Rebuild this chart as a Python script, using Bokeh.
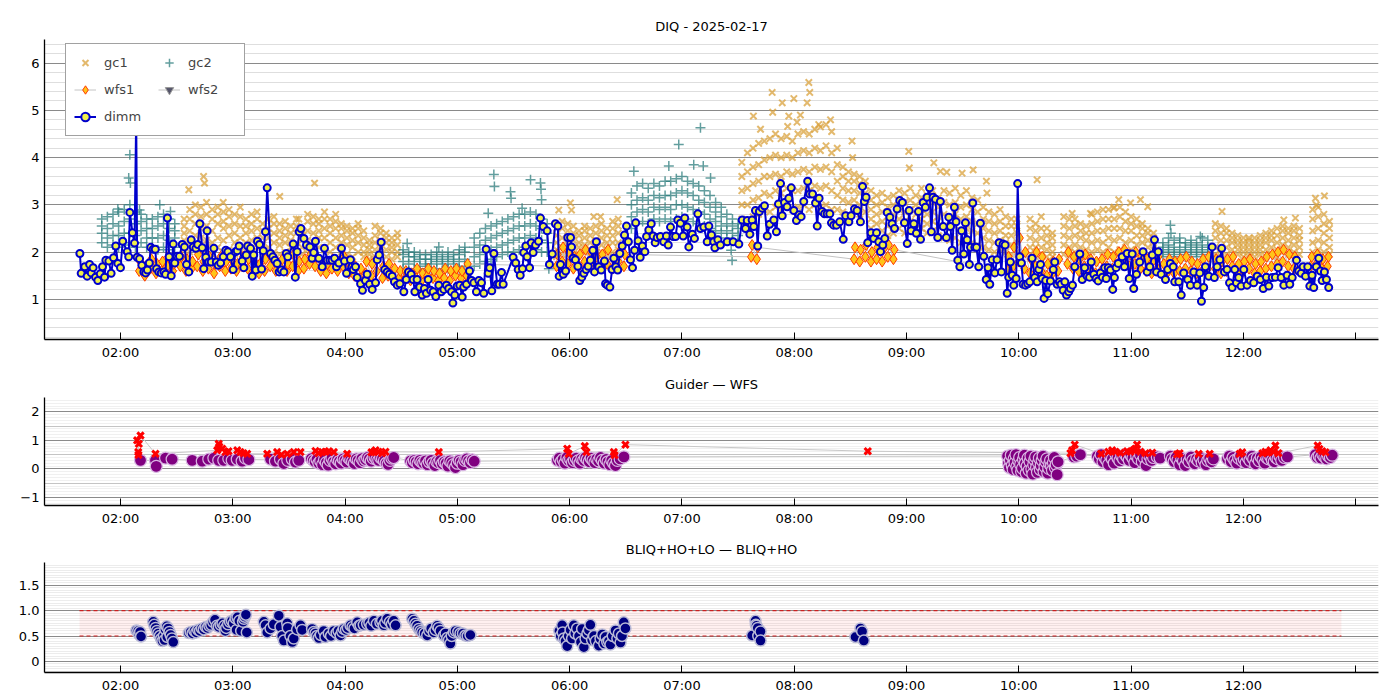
import numpy as np
import pandas as pd
from bokeh.plotting import figure
from bokeh.models import (ColumnDataSource, Legend, LegendItem, FixedTicker,
                          SingleIntervalTicker, Grid, Range1d, DatetimeTickFormatter)
from bokeh.layouts import column
from bokeh.embed import file_html
from bokeh.resources import INLINE

# ---------------------------------------------------------------- data
DATE = "2025-02-17"
TITLES = ["DIQ - 2025-02-17", "Guider \u2014 WFS", "BLIQ+HO+LO \u2014 BLIQ+HO"]
TICK_HOURS = [2, 3, 4, 5, 6, 7, 8, 9, 10, 11, 12, 13]
TICK_LABELS = ["02:00", "03:00", "04:00", "05:00", "06:00", "07:00", "08:00",
               "09:00", "10:00", "11:00", "12:00", ""]
X_START_MIN, X_END_MIN = 79.4, 792.2          # minutes after midnight

# DIMM seeing (minutes after midnight, arcsec)
dimm_t = [
98.3,99.0,100.9,102.2,103.5,104.4,105.4,106.7,107.9,109.2,110.4,111.5,112.2,113.8,115.0,116.3,117.5,118.6,120.0,121.2,
123.6,124.4,125.0,126.4,127.5,128.4,128.9,130.2,131.4,132.5,133.5,134.4,135.4,136.2,137.5,138.6,139.3,140.5,141.8,143.2,
144.1,145.1,146.0,147.1,148.2,149.0,150.3,151.5,153.0,154.2,155.3,156.5,157.8,158.9,160.3,161.3,162.4,163.7,164.5,165.6,
166.3,167.2,168.5,169.9,171.2,172.2,173.5,174.9,176.3,177.4,178.8,180.2,181.5,182.4,183.4,185.0,185.9,187.2,188.0,189.5,
190.4,191.2,192.3,193.2,194.3,195.4,196.3,197.5,198.4,200.2,201.4,202.5,203.7,204.8,205.9,207.3,208.6,209.4,212.3,213.4,
214.4,215.5,216.4,218.0,219.4,221.2,222.4,223.3,224.2,226.0,227.8,229.0,230.5,231.9,233.1,234.4,235.4,236.7,238.1,239.7,
240.8,242.9,244.4,245.6,246.5,248.3,249.3,250.9,251.8,253.1,254.5,256.3,257.2,258.2,259.3,261.2,262.5,263.7,265.2,266.4,
267.9,269.3,271.4,272.7,273.9,275.3,276.4,277.3,278.5,279.9,281.2,282.4,283.5,284.4,285.7,287.1,288.5,290.1,291.4,292.8,
294.2,295.4,296.9,297.6,298.6,299.9,301.3,302.6,303.4,304.9,306.5,307.6,308.8,310.2,311.5,312.9,314.1,315.4,316.5,317.3,
318.4,319.5,321.3,322.4,323.6,324.5,329.8,331.2,332.5,333.6,334.8,335.5,336.6,337.3,338.6,339.5,340.5,341.8,343.4,344.4,
345.9,348.0,349.2,350.7,352.4,353.7,354.4,355.1,356.6,357.9,359.0,360.5,361.0,361.9,363.1,364.4,365.4,366.5,367.6,368.8,
369.9,371.1,372.4,373.3,374.3,375.6,376.9,378.6,379.2,380.1,381.5,382.7,383.6,384.7,385.7,386.8,388.1,389.3,390.4,391.4,
392.5,393.6,394.7,395.3,396.6,397.7,398.9,400.2,401.1,402.3,403.6,404.6,405.7,406.8,408.5,410.3,411.7,412.7,413.9,415.3,
416.6,417.8,419.2,420.7,421.5,422.8,423.7,425.5,426.7,428.5,429.9,431.7,433.5,434.4,435.8,437.0,437.6,439.2,440.6,444.2,
447.4,450.4,452.2,454.0,454.9,456.3,457.5,458.4,459.3,460.5,461.4,462.9,464.1,465.6,466.9,469.1,470.5,471.6,472.7,473.6,
474.8,476.2,477.1,478.4,479.8,481.2,482.6,483.7,485.1,487.2,488.3,489.8,491.4,492.3,493.3,494.9,496.2,497.6,499.0,499.9,
501.1,502.6,504.3,506.2,507.5,509.2,510.4,512.2,513.6,515.4,516.5,517.5,518.4,519.3,521.1,522.5,524.0,525.2,526.1,527.3,
528.4,529.7,531.1,532.3,533.6,535.0,536.4,537.8,538.9,540.4,541.4,542.5,543.9,545.3,546.4,547.5,548.9,550.1,551.0,552.3,
553.3,554.2,555.5,556.7,558.1,559.6,561.3,562.6,563.5,564.4,565.6,566.5,567.4,568.5,569.4,570.6,571.5,572.4,573.6,574.2,
575.4,576.5,577.4,578.6,579.5,581.3,582.6,583.6,584.5,585.8,587.2,588.4,589.5,590.7,591.6,592.7,593.8,594.6,595.5,596.5,
597.3,598.6,599.4,600.5,601.4,602.3,603.6,604.8,605.9,607.1,608.5,609.8,610.7,611.6,612.5,613.5,614.4,615.5,616.9,618.4,
619.2,620.5,621.7,622.6,623.7,624.6,625.5,626.7,627.6,628.7,629.9,632.6,633.9,635.2,636.5,637.8,638.7,640.1,641.3,642.4,
643.6,644.7,645.9,646.7,647.8,649.0,650.2,651.1,652.0,653.1,655.2,656.5,657.9,659.0,660.6,661.4,662.9,664.6,666.4,668.6,
670.0,671.3,672.5,673.6,674.5,676.1,678.4,679.6,681.0,682.5,683.3,685.5,686.8,688.1,690.3,691.7,693.5,695.3,696.7,697.6,
698.8,699.7,701.5,703.3,704.5,706.0,707.4,708.4,709.9,711.3,712.6,714.0,715.4,716.3,717.5,718.8,720.2,722.0,723.8,725.5,
727.4,729.1,730.6,732.3,733.6,735.4,737.1,738.6,740.2,741.6,743.4,744.8,746.1,748.4,749.6,750.9,751.9,753.2,754.4,755.5,
756.7,757.6,759.0,760.3,761.2,762.1,763.3,764.4,765.6]
dimm_v = [
1.97,1.55,1.69,1.49,1.74,1.56,1.67,1.47,1.40,1.54,1.69,1.47,1.83,1.81,1.55,1.88,2.13,1.76,1.67,2.23,
2.01,1.90,2.84,2.41,2.19,4.90,1.89,1.86,1.72,1.58,1.56,1.62,1.77,2.10,2.06,2.06,1.65,1.58,1.56,1.58,
1.53,2.72,1.90,1.50,2.17,1.77,1.91,1.91,2.16,2.11,1.74,1.58,2.26,2.11,2.08,2.16,2.60,2.09,1.65,1.89,
2.45,1.79,1.79,2.08,1.79,1.72,1.77,1.90,2.04,2.01,1.90,1.63,2.01,2.03,2.13,1.81,1.67,1.94,2.13,2.08,
1.49,1.94,1.62,2.23,2.16,1.64,2.03,2.43,3.36,1.97,1.90,1.83,1.76,1.58,1.62,1.58,1.97,1.90,2.17,1.47,
2.01,2.43,2.50,2.29,2.15,2.11,1.87,1.99,2.23,1.87,1.69,2.08,1.83,1.83,1.83,1.87,1.69,1.77,2.08,1.81,
1.55,1.84,1.63,1.69,1.46,1.33,1.19,1.40,1.53,1.32,1.21,1.35,1.84,1.94,2.21,1.63,1.58,1.53,1.49,1.37,
1.30,1.33,1.16,1.42,1.58,1.53,1.42,1.16,1.42,1.26,1.09,1.23,1.13,1.42,1.19,1.16,1.06,1.30,1.16,1.21,
1.30,1.23,1.16,0.92,1.09,1.28,1.30,1.05,1.26,1.32,1.60,1.40,1.35,1.16,1.40,1.35,1.13,2.06,1.55,1.67,
1.18,1.97,1.32,1.32,1.57,1.32,1.89,1.77,1.63,1.51,1.65,1.99,2.13,1.90,1.67,2.20,1.99,2.15,2.23,2.72,
2.54,2.45,1.74,1.96,2.60,2.55,1.49,1.74,1.53,1.60,2.31,2.31,2.11,1.87,1.84,1.70,1.40,1.47,1.55,1.63,
1.70,1.83,2.04,1.58,2.22,1.69,1.62,1.81,1.33,1.30,1.26,1.63,1.87,1.69,1.62,1.97,2.13,2.36,2.55,2.22,
1.84,1.67,2.04,2.62,2.24,1.89,2.13,2.01,2.33,2.47,2.60,2.34,2.20,2.31,2.33,2.22,2.34,2.15,2.53,2.33,
2.33,2.68,2.61,2.34,2.72,2.53,2.11,2.38,2.29,2.81,2.50,2.53,2.22,2.55,2.36,2.22,2.09,2.26,2.15,2.22,
2.22,2.17,2.68,2.50,2.67,2.38,2.68,2.54,2.88,2.13,2.86,2.93,2.98,2.34,2.59,2.68,2.43,3.02,3.45,2.77,
3.05,2.96,3.14,3.36,2.88,2.67,2.79,2.75,3.07,3.50,3.23,3.23,3.04,2.55,3.14,2.86,2.81,2.81,2.81,2.62,
2.57,2.57,2.64,2.27,2.77,2.64,2.77,2.91,2.88,2.64,3.39,3.07,3.16,2.20,2.41,2.29,2.41,2.22,2.01,2.15,
2.29,2.84,2.74,2.60,2.50,2.91,3.09,3.05,2.62,2.18,2.88,2.45,2.60,2.40,2.86,2.27,3.05,2.95,3.16,3.36,
2.43,3.16,3.12,2.31,3.07,2.54,2.31,2.74,2.54,2.04,2.95,2.64,1.83,1.69,2.45,1.96,2.62,2.26,1.74,2.10,
3.04,2.10,2.10,1.69,2.61,1.91,1.42,1.67,1.32,1.84,1.56,1.84,2.20,1.58,2.17,2.15,1.13,1.47,1.79,1.51,
1.30,1.44,3.45,1.90,1.77,1.32,1.30,1.33,1.37,1.87,1.46,1.37,1.63,1.74,1.44,1.02,1.40,1.12,1.39,1.63,
1.79,1.32,1.37,1.32,1.19,1.37,1.09,1.16,1.23,1.30,1.69,1.96,1.42,1.67,1.49,1.47,1.79,1.53,1.44,1.39,
1.56,1.47,1.67,1.44,1.67,1.62,1.21,1.46,1.67,1.76,1.90,1.69,1.97,1.44,1.96,1.23,1.53,1.79,2.01,1.58,
1.69,1.94,2.26,1.58,2.01,1.53,1.42,1.63,1.76,1.69,1.37,1.37,1.09,1.56,1.42,1.30,1.58,1.30,1.56,0.96,
1.25,1.69,1.49,2.11,1.46,1.69,1.84,2.08,1.58,1.63,1.35,1.25,1.63,1.35,1.46,1.28,1.63,1.30,1.40,1.35,
1.49,1.42,1.23,1.47,1.28,1.46,1.47,1.67,1.46,1.30,1.51,1.32,1.46,1.83,1.60,1.55,1.69,1.49,1.69,1.28,
1.51,1.25,1.69,1.87,1.60,1.40,1.58,1.42,1.25]

# gc1: times with five read values each (dense cloud), plus isolated points
gc1_t = [154,157,160,163,166,169,172,175,178,181,184,187,190,193,196,199,202,205,208,211,214,217,220,223,226,229,232,235,238,241,244,247,250,253,256,259,262,265,268,
         353,356,359,362,365,368,371,374,377,380,383,386,
         452,455,458,461,464,467,470,473,476,479,482,485,488,491,494,497,500,503,506,509,512,515,518,521,524,527,530,533,536,539,542,545,548,551,554,557,560,563,566,569,572,575,578,581,584,587,590,593,596,599,
         606,609,612,615,618,
         624,627,630,633,636,639,642,645,648,651,654,657,660,663,666,669,672,
         705,708,711,714,717,720,723,726,729,732,735,738,741,744,747,750,
         757,760,763,766]
gc1_a = [2.05,2.0,2.1,2.0,2.05,1.95,2.1,2.0,2.05,1.95,2.0,2.05,2.0,2.1,1.95,1.9,2.0,1.95,2.0,1.9,2.0,1.95,2.05,2.0,2.1,2.05,2.0,2.1,2.0,1.95,1.9,2.0,1.9,1.85,1.9,1.95,1.9,1.85,1.9,
         1.9,1.95,2.0,1.9,1.95,2.0,1.9,1.95,2.0,1.9,2.0,2.05,
         2.7,2.65,2.75,2.8,2.9,2.85,2.95,2.9,3.0,2.9,2.95,3.0,2.9,3.0,2.95,3.0,2.9,2.9,2.85,2.8,2.9,2.8,2.85,2.5,2.4,2.45,2.35,2.4,2.5,2.4,2.45,2.4,2.5,2.4,2.45,2.35,2.3,2.25,2.3,2.2,2.25,2.2,2.15,2.1,2.05,2.0,2.05,2.0,1.95,2.0,
         1.95,1.9,1.95,1.9,1.9,
         1.95,1.9,2.0,1.95,1.9,2.0,2.05,2.0,2.1,2.0,2.05,2.0,2.05,1.95,2.0,1.95,1.9,
         1.95,1.9,1.95,1.9,1.95,1.9,1.95,1.9,1.95,1.9,1.95,1.9,2.0,1.95,2.0,1.95,
         2.0,2.05,2.0,1.95]
gc1_b = [2.25,2.2,2.35,2.3,2.25,2.2,2.3,2.25,2.35,2.2,2.3,2.2,2.25,2.3,2.15,2.1,2.2,2.15,2.2,2.1,2.2,2.1,2.25,2.2,2.3,2.3,2.2,2.3,2.2,2.15,2.1,2.2,2.0,1.95,2.05,2.1,2.05,2.0,2.0,
         2.05,2.1,2.15,2.05,2.1,2.15,2.05,2.1,2.15,2.05,2.2,2.2,
         3.0,3.0,3.1,3.15,3.25,3.2,3.3,3.25,3.35,3.3,3.3,3.35,3.3,3.4,3.35,3.4,3.3,3.2,3.1,3.05,3.1,3.0,3.05,2.7,2.6,2.65,2.55,2.6,2.7,2.65,2.65,2.6,2.7,2.6,2.65,2.55,2.55,2.5,2.55,2.45,2.5,2.45,2.4,2.3,2.25,2.2,2.25,2.2,2.15,2.2,
         2.1,2.1,2.1,2.05,2.0,
         2.15,2.1,2.15,2.1,2.05,2.2,2.25,2.2,2.3,2.25,2.3,2.2,2.25,2.15,2.2,2.1,2.05,
         2.1,2.05,2.1,2.05,2.05,2.0,2.05,2.0,2.05,2.05,2.1,2.05,2.15,2.1,2.15,2.1,
         2.2,2.25,2.2,2.1]
gc1_c = [2.4,2.45,2.6,2.5,2.55,2.45,2.6,2.5,2.55,2.4,2.55,2.4,2.45,2.5,2.3,2.3,2.4,2.3,2.35,2.25,2.4,2.25,2.45,2.4,2.45,2.5,2.4,2.5,2.35,2.3,2.25,2.35,2.15,2.05,2.2,2.25,2.2,2.1,2.15,
         2.2,2.3,2.3,2.25,2.2,2.3,2.2,2.25,2.3,2.2,2.35,2.4,
         3.3,3.35,3.45,3.5,3.6,3.6,3.65,3.6,3.7,3.65,3.7,3.75,3.7,3.8,3.75,3.8,3.7,3.5,3.35,3.3,3.3,3.25,3.25,2.9,2.8,2.85,2.75,2.8,2.9,2.85,2.9,2.8,2.9,2.8,2.85,2.75,2.8,2.75,2.8,2.7,2.75,2.65,2.6,2.5,2.45,2.4,2.45,2.35,2.35,2.4,
         2.3,2.25,2.3,2.2,2.15,
         2.35,2.3,2.35,2.3,2.25,2.4,2.45,2.45,2.5,2.5,2.5,2.45,2.45,2.35,2.35,2.25,2.2,
         2.3,2.25,2.25,2.2,2.15,2.1,2.15,2.1,2.15,2.2,2.25,2.2,2.3,2.25,2.3,2.25,
         2.45,2.5,2.4,2.3]
gc1_d = [2.55,2.7,2.8,2.75,2.8,2.7,2.8,2.65,2.75,2.6,2.75,2.55,2.6,2.7,2.45,2.5,2.6,2.45,2.5,2.4,2.55,2.35,2.65,2.6,2.6,2.7,2.55,2.65,2.5,2.45,2.4,2.5,2.3,2.15,2.35,2.4,2.3,2.2,2.3,
         2.35,2.5,2.45,2.4,2.35,2.45,2.35,2.4,2.45,2.35,2.5,2.55,
         3.6,3.7,3.8,3.85,3.95,4.0,4.05,4.0,4.05,4.0,4.1,4.15,4.1,4.2,4.15,4.25,4.1,3.85,3.6,3.5,3.5,3.45,3.4,3.1,3.0,3.05,2.95,3.0,3.1,3.05,3.1,3.0,3.15,3.0,3.05,2.95,3.05,3.0,3.05,2.95,3.0,2.9,2.85,2.7,2.65,2.6,2.65,2.55,2.55,2.55,
         2.5,2.45,2.5,2.35,2.3,
         2.55,2.5,2.55,2.45,2.4,2.6,2.65,2.7,2.7,2.7,2.75,2.65,2.6,2.55,2.5,2.4,2.3,
         2.45,2.4,2.4,2.3,2.25,2.2,2.25,2.2,2.25,2.3,2.35,2.35,2.45,2.4,2.45,2.35,
         2.7,2.75,2.6,2.5]
gc1_e = [2.7,2.9,3.0,2.95,3.05,2.9,2.95,2.85,2.9,2.8,2.95,2.7,2.8,2.85,2.6,2.7,2.75,2.6,2.65,2.55,2.7,2.4,2.8,2.75,2.7,2.85,2.7,2.8,2.6,2.55,2.5,2.6,2.45,2.25,2.55,2.5,2.4,2.3,2.4,
         2.5,2.65,2.6,2.55,2.45,2.55,2.5,2.55,2.6,2.5,2.65,2.7,
         3.9,4.1,4.2,4.3,4.35,4.4,4.5,4.4,4.45,4.35,4.5,4.55,4.5,4.6,4.65,4.7,4.55,4.2,3.8,3.7,3.65,3.6,3.5,3.3,3.2,3.25,3.15,3.2,3.3,3.25,3.35,3.2,3.35,3.2,3.3,3.15,3.3,3.25,3.35,3.2,3.3,3.15,3.1,2.95,2.85,2.8,2.9,2.75,2.7,2.7,
         2.7,2.6,2.75,2.5,2.4,
         2.75,2.7,2.7,2.6,2.55,2.8,2.85,2.9,2.9,2.95,2.95,2.85,2.75,2.7,2.6,2.5,2.4,
         2.6,2.55,2.5,2.4,2.35,2.3,2.3,2.3,2.35,2.4,2.45,2.5,2.55,2.5,2.55,2.5,
         2.9,2.95,2.8,2.65]
gc1_out_t = [164.4,164.9,156.5,174.9,205.1,223.7,215.3,
             354.2,360.4,361.0,372.9,376.5,385.4,
             458.2,468.2,468.5,473.6,479.8,477.1,487.8,488.3,486.9,493.1,462.0,483.3,499.4,476.5,481.5,
             510.9,511.2,541.2,541.5,554.6,558.1,569.7,575.6,582.7,583.0,561.5,
             609.8,628.5,638.3,650.7,653.4,659.7,665.0,668.9,
             708.6,741.6,747.8,758.5,763.3,759.0]
gc1_out_v = [3.60,3.46,3.32,3.05,3.18,3.46,2.70,
             2.89,3.04,2.89,2.75,2.75,3.11,
             4.88,5.38,4.96,5.16,5.25,4.88,5.59,5.38,5.16,4.70,4.60,4.90,4.80,4.66,4.75,
             4.35,4.00,4.13,3.78,3.89,3.71,3.67,3.74,3.50,3.25,3.69,
             3.53,2.82,2.82,2.93,3.11,3.04,3.11,2.96,
             2.86,2.68,2.72,3.14,3.19,3.00]

# gc2: times with four read values each, plus isolated points
gc2_t = [110,113,116,119,122,125,128,131,134, 137,140,143,146,149,
         271,274,277,280,283,286,289,292,295,298,301,304,
         309,312,315,318,321,324,327,330,333,336,339,342,345,348,
         393,396,399,402,405,408,411,414,417,420,423,426,429,432,435,438,441,444,447,450,
         677,680,683,686,689,692,695,698,701]
gc2_a = [2.2,2.1,2.15,2.1,2.2,2.15,2.1,2.2,2.1, 2.1,2.05,2.1,2.05,2.1,
         1.65,1.6,1.65,1.6,1.65,1.6,1.65,1.6,1.65,1.6,1.65,1.7,
         1.7,1.75,1.8,1.85,1.9,1.95,2.0,2.0,2.05,2.1,2.1,2.05,2.0,2.0,
         2.5,2.6,2.65,2.6,2.7,2.65,2.7,2.65,2.7,2.75,2.7,2.65,2.6,2.55,2.5,2.45,2.4,2.3,2.25,2.2,
         1.9,1.95,1.9,1.95,1.9,1.95,1.9,1.95,1.9]
gc2_b = [2.4,2.3,2.35,2.35,2.4,2.4,2.35,2.45,2.3, 2.3,2.3,2.35,2.25,2.3,
         1.8,1.75,1.8,1.7,1.75,1.75,1.8,1.75,1.8,1.75,1.8,1.85,
         1.9,1.95,2.0,2.05,2.1,2.15,2.2,2.25,2.3,2.3,2.35,2.3,2.25,2.2,
         2.75,2.85,2.9,2.85,2.95,2.9,2.95,2.9,3.0,3.0,2.95,2.9,2.85,2.8,2.7,2.65,2.55,2.45,2.4,2.35,
         2.0,2.05,2.0,2.05,2.0,2.05,2.0,2.05,2.0]
gc2_c = [2.55,2.5,2.6,2.55,2.65,2.7,2.6,2.65,2.5, 2.5,2.55,2.6,2.5,2.45,
         1.95,1.9,1.9,1.85,1.85,1.85,1.9,1.85,1.9,1.85,1.95,2.0,
         2.1,2.15,2.25,2.3,2.35,2.4,2.45,2.5,2.55,2.55,2.6,2.55,2.5,2.4,
         3.0,3.1,3.15,3.1,3.2,3.15,3.2,3.2,3.25,3.3,3.25,3.2,3.1,3.05,2.95,2.85,2.75,2.6,2.55,2.5,
         2.1,2.15,2.1,2.2,2.1,2.15,2.1,2.15,2.1]
gc2_d = [2.7,2.75,2.8,2.85,2.9,3.0,2.85,2.8,2.7, 2.7,2.75,2.8,2.7,2.6,
         2.05,2.0,2.0,1.95,1.95,1.95,2.0,1.95,2.0,1.95,2.05,2.1,
         2.3,2.4,2.5,2.55,2.6,2.65,2.7,2.75,2.8,2.8,2.85,2.8,2.7,2.6,
         3.25,3.4,3.45,3.35,3.45,3.4,3.5,3.5,3.55,3.6,3.5,3.45,3.4,3.3,3.2,3.05,2.95,2.8,2.7,2.6,
         2.2,2.3,2.25,2.3,2.2,2.25,2.2,2.3,2.25]
gc2_out_t = [125.0,124.4,125.3,130.2,141.0,146.7,118.6,
             273.2,290.1,
             319.5,319.8,328.4,328.7,339.1,344.4,344.7,345.0,334.6,316.5,348.9,
             394.3,418.3,429.9,413.0,426.3,431.4,435.3,446.3,446.8,
             681.0,681.3,697.0]
gc2_out_v = [4.06,3.57,3.46,2.89,3.00,2.86,2.91,
             2.18,2.11,
             3.64,3.39,3.28,3.14,3.53,3.46,3.33,3.11,2.93,2.82,1.65,
             3.71,4.28,4.63,3.82,3.85,3.82,3.57,2.04,1.83,
             2.57,2.40,2.33]

# wfs1: times with two read values each
wfs1_t = [130,133,136,139,142,145,148,
          152,155,158,161,164,167,170,173,176,179,182,185,188,191,194,197,200,203,206,209,212,215,218,221,224,227,230,233,236,239,242,245,248,
          251,254,257,260,263,266,269,
          272,275,278,281,284,287,290,293,296,299,302,305,
          353,356,359,362,365,368,371,374,377,380,383,386,389,
          457,460,
          512,515,518,521,524,527,530,533,
          594,597,600,603,606,609,612,615,618,621,
          626,629,632,635,638,641,644,647,650,653,656,659,662,665,668,671,674,677,680,683,686,689,692,695,698,701,
          705,708,711,714,717,720,723,726,729,732,735,738,741,744,747,
          756,759,762,765]
wfs1_a = [1.6,1.5,1.65,1.55,1.6,1.7,1.6,
          1.7,1.6,1.65,1.7,1.6,1.65,1.55,1.7,1.6,1.65,1.6,1.7,1.65,1.6,1.55,1.6,1.7,1.6,1.65,1.6,1.7,1.6,1.65,1.75,1.7,1.6,1.55,1.65,1.6,1.7,1.55,1.5,1.45,
          1.55,1.5,1.6,1.45,1.5,1.4,1.45,
          1.45,1.4,1.45,1.4,1.5,1.45,1.4,1.45,1.4,1.5,1.45,1.5,
          1.7,1.8,1.75,1.65,1.7,1.8,1.75,1.65,1.7,1.75,1.65,1.8,1.7,
          1.9,1.85,
          1.85,1.8,1.9,1.8,1.85,1.8,1.9,1.85,
          1.6,1.7,1.8,1.65,1.55,1.7,1.6,1.5,1.55,1.6,
          1.75,1.65,1.6,1.7,1.65,1.55,1.6,1.7,1.65,1.75,1.8,1.7,1.75,1.65,1.6,1.55,1.65,1.5,1.6,1.55,1.6,1.65,1.6,1.55,1.6,1.65,
          1.65,1.55,1.6,1.7,1.55,1.6,1.65,1.55,1.6,1.65,1.7,1.75,1.8,1.7,1.65,
          1.7,1.75,1.65,1.7]
wfs1_b = [1.8,1.7,1.85,1.75,1.8,1.9,1.75,
          1.9,1.85,1.8,1.95,1.8,1.9,1.75,1.9,1.8,1.85,1.75,1.9,1.85,1.8,1.75,1.85,1.9,1.8,1.85,1.75,1.95,1.8,1.85,1.95,1.9,1.8,1.75,1.85,1.8,1.9,1.75,1.7,1.65,
          1.8,1.75,1.9,1.7,1.75,1.65,1.6,
          1.6,1.55,1.65,1.55,1.65,1.6,1.55,1.65,1.6,1.65,1.6,1.75,
          1.95,2.1,2.0,1.9,1.95,2.05,2.0,1.9,1.95,2.05,1.85,2.0,1.95,
          2.15,2.1,
          2.1,2.05,2.15,2.0,2.1,2.05,2.15,2.05,
          1.9,2.1,2.3,2.0,1.85,2.0,1.9,1.75,1.8,1.85,
          2.0,1.9,1.85,1.95,1.85,1.8,1.85,1.95,1.9,2.0,2.05,1.95,2.0,1.9,1.85,1.8,1.9,1.75,1.85,1.8,1.85,1.9,1.8,1.75,1.85,1.9,
          1.85,1.8,1.85,1.9,1.75,1.8,1.85,1.75,1.8,1.9,1.95,2.0,2.05,1.95,1.9,
          1.9,1.95,1.85,1.9]
wfs2_t = []
wfs2_v = []

# Guider (red) and WFS (purple) panel
guider_t = [128.9,130.7,129.8,129.5,129.6,138.7,
            171.7,172.5,172.8,174.4,176.1,177.7,182.4,184.1,185.7,187.7,
            198.4,203.7,206.0,209.1,212.6,216.2,
            224.2,225.8,227.8,229.5,231.3,234.0,241.1,
            254.1,255.4,256.3,257.9,259.8,261.6,
            290.1,
            358.7,359.5,368.1,369.0,383.6,384.0,389.8,
            519.3,
            627.6,628.5,629.9,644.0,647.9,649.9,651.6,654.3,657.9,659.7,661.3,662.3,663.2,665.0,667.7,671.3,
            684.6,685.9,696.1,702.0,
            718.0,719.4,730.2,731.8,733.0,734.5,736.1,737.1,738.7,
            759.7,760.6,762.1,763.9]
guider_v = [1.00,1.17,0.88,0.59,0.49,0.53,
            0.65,0.88,0.78,0.71,0.59,0.62,0.65,0.59,0.55,0.53,
            0.53,0.59,0.50,0.53,0.59,0.59,
            0.63,0.55,0.59,0.60,0.62,0.59,0.53,
            0.58,0.59,0.65,0.60,0.55,0.60,
            0.59,
            0.71,0.53,0.80,0.59,0.59,0.48,0.85,
            0.62,
            0.55,0.65,0.85,0.53,0.60,0.65,0.60,0.57,0.62,0.60,0.65,0.71,0.85,0.60,0.55,0.57,
            0.51,0.55,0.53,0.53,
            0.53,0.58,0.55,0.60,0.57,0.65,0.60,0.82,0.55,
            0.82,0.70,0.62,0.58]
wfs_t = [130.7,138.7,139.1,144.1,147.6,
         158.3,163.7,167.2,169.9,172.5,175.2,177.9,179.7,182.4,185.0,186.8,188.6,
         200.2,202.8,205.5,207.3,209.4,211.8,213.5,215.3,
         222,223,224,225,226,227,228,229,230,231,232,233,234,235,236,237,238,239,240,241,242,243,244,245,246,247,248,249,250,251,252,253,254,255,256,257,258,259,260,261,262,263,264,265,266,
         275,276,277,278,279,280,281,282,283,284,285,286,287,288,289,290,291,292,293,294,295,296,297,298,299,300,301,302,303,304,305,306,307,308,309,
         353.5,354.5,355.5,356.5,357.5,358.5,359.5,360.5,361.5,362.5,363.5,364.5,365.5,366.5,367.5,368.5,369.5,370.5,371.5,372.5,373.5,374.5,375.5,376.5,377.5,378.5,379.5,380.5,381.5,382.5,383.5,384.5,385.5,387,389,
         594,594.5,595,595.5,596,596.5,597,597.5,598,598.5,599,599.5,600,600.5,601,601.5,602,602.5,603,603.5,604,604.5,605,605.5,606,606.5,607,607.5,608,608.5,609,609.5,610,610.5,611,611.5,612,612.5,613,613.5,614,614.5,615,615.5,616,616.5,617,617.5,618,618.5,619,619.5,620,620.5,621,
         629.4,631,632.9,
         642,643,644,645,646,647,648,649,650,651,652,653,654,655,656,657,658,659,660,661,662,663,664,665,666,667,668,669,670,671,672,674,675.5,
         681,682,683,684,685,686,687,688,689,690,691,692,693,694,695,696,697,698,699,700,701,702,703,704,
         711.5,712.5,713.5,714.5,715.5,716.5,717.5,718.5,719.5,720.5,721.5,722.5,723.5,724.5,725.5,726.5,727.5,728.5,729.5,730.5,731.5,732.5,733.5,734.5,735.5,736.5,737.5,738.5,739.5,740.5,742,743.5,
         758.5,759.5,760.5,761.5,762.5,763.5,764.5,765.5,766.5,767.5]
wfs_v = [0.30,0.30,0.09,0.38,0.34,
         0.30,0.27,0.34,0.38,0.30,0.30,0.36,0.30,0.34,0.27,0.38,0.33,
         0.34,0.27,0.34,0.19,0.30,0.34,0.24,0.30,
         0.36,0.3,0.25,0.34,0.2,0.28,0.15,0.32,0.22,0.13,0.3,0.38,0.25,0.18,0.33,0.27,0.2,0.35,0.3,0.24,0.38,0.32,0.26,0.19,0.35,0.3,0.22,0.36,0.28,0.33,0.4,0.35,0.27,0.38,0.42,0.33,0.3,0.4,0.36,0.28,0.2,0.16,0.3,0.38,0.4,
         0.28,0.22,0.3,0.25,0.18,0.3,0.24,0.2,0.28,0.15,0.25,0.3,0.2,0.12,0.26,0.22,0.3,0.18,0.25,0.2,0.1,0.28,0.22,0.15,0.05,0.2,0.3,0.25,0.15,0.3,0.35,0.28,0.22,0.32,0.27,
         0.3,0.38,0.25,0.33,0.2,0.4,0.3,0.35,0.22,0.3,0.38,0.28,0.2,0.35,0.3,0.4,0.33,0.25,0.38,0.3,0.22,0.35,0.28,0.4,0.3,0.2,0.33,0.25,0.15,0.3,0.2,0.12,0.3,0.35,0.42,
         0.45,0.2,0.05,0.3,0.48,0.12,-0.02,0.35,0.22,0.5,0.08,-0.05,0.28,0.4,0.15,-0.1,0.02,0.33,0.48,0.2,-0.15,0.1,0.38,-0.05,0.25,0.45,0.0,-0.18,0.15,0.32,0.42,0.05,-0.12,0.22,0.38,-0.02,0.12,0.3,0.45,-0.1,0.08,0.25,0.35,-0.15,0.02,0.18,0.3,0.1,-0.05,0.22,0.4,0.05,0.15,-0.2,0.25,
         0.42,0.45,0.5,
         0.45,0.35,0.5,0.25,0.4,0.3,0.15,0.45,0.35,0.2,0.5,0.38,0.28,0.45,0.35,0.5,0.42,0.3,0.48,0.38,0.22,0.45,0.35,0.5,0.25,0.4,0.12,0.35,0.45,0.3,0.4,0.42,0.38,
         0.45,0.35,0.25,0.4,0.3,0.15,0.38,0.28,0.12,0.35,0.25,0.42,0.3,0.18,0.35,0.28,0.4,0.22,0.32,0.15,0.3,0.38,0.25,0.35,
         0.35,0.45,0.25,0.4,0.3,0.2,0.38,0.45,0.28,0.35,0.22,0.4,0.3,0.45,0.35,0.18,0.38,0.28,0.42,0.32,0.2,0.4,0.35,0.45,0.3,0.25,0.4,0.35,0.45,0.3,0.4,0.42,
         0.5,0.4,0.45,0.38,0.5,0.42,0.35,0.45,0.4,0.48]

# BLIQ panel
bliq_t = [128.5,129.5,130.5,131.0,130.0,
          137.5,138.0,138.8,139.5,140.2,141.0,141.7,142.4,143.2,144.0,144.7,145.5,146.2,146.8,147.5,148.2,143.5,145.0,
          156.5,157.5,158.5,159.5,160.5,161.5,162.5,163.5,164.5,165.5,166.5,167.5,168.5,169.5,170.5,171.5,172.5,173.5,174.5,175.5,176.5,177.5,178.5,179.5,180.5,181.5,182.5,183.5,184.5,185.5,186.0,186.5,187.0,187.5,176.0,182.0,
          196.6,197.5,198.4,200.2,201.9,204.6,205.5,206.4,207.3,209.1,209.4,210.8,211.8,212.6,214.4,216.2,217.1,
          222.4,224.2,226.0,228.6,231.3,234.0,237.6,239.3,242.9,246.5,248.3,251.8,255.4,258.9,260.7,262.5,266.0,267.0,
          223.3,225.0,227.0,229.5,232.5,235.5,236.5,238.5,240.5,241.5,244.0,245.0,247.5,250.0,253.0,254.0,257.0,259.8,261.5,264.0,265.0,
          275.9,277.6,279.4,281.2,283.9,287.4,289.2,291.0,292.8,294.6,296.3,298.1,301.7,304.3,307.0,
          276.8,278.5,280.3,282.5,285.0,286.0,288.3,290.0,293.7,295.5,297.0,299.0,300.5,303.0,305.5,
          356.0,356.3,356.9,358.7,362.2,364.0,366.7,367.6,371.1,372.0,375.6,377.4,380.1,381.8,384.5,387.2,388.9,389.8,
          354.5,355.2,357.8,359.5,360.5,361.3,363.0,365.0,366.0,368.5,369.5,370.3,373.0,374.0,376.5,378.5,379.2,381.0,383.0,385.5,386.3,388.0,
          459.3,459.5,460.5,462.0,460.8,457.5,462.0,459.8,
          512.7,515.4,516.3,517.2]
bliq_v = [0.61,0.60,0.58,0.49,0.53,
          0.78,0.72,0.66,0.60,0.55,0.50,0.44,0.40,0.50,0.63,0.69,0.65,0.58,0.52,0.45,0.38,0.42,0.48,
          0.56,0.58,0.55,0.60,0.57,0.62,0.60,0.65,0.63,0.68,0.66,0.70,0.72,0.78,0.82,0.70,0.68,0.72,0.75,0.70,0.66,0.73,0.78,0.80,0.75,0.85,0.87,0.80,0.60,0.78,0.84,0.88,0.92,0.57,0.60,0.62,
          0.78,0.71,0.57,0.65,0.73,0.90,0.68,0.50,0.41,0.75,0.66,0.50,0.38,0.45,0.63,0.71,0.62,
          0.64,0.55,0.46,0.60,0.55,0.60,0.51,0.64,0.71,0.77,0.71,0.74,0.80,0.77,0.71,0.84,0.80,0.71,
          0.58,0.50,0.52,0.48,0.50,0.56,0.60,0.58,0.62,0.66,0.68,0.65,0.70,0.72,0.76,0.70,0.74,0.80,0.76,0.78,0.73,
          0.84,0.74,0.64,0.57,0.51,0.57,0.70,0.60,0.51,0.46,0.35,0.57,0.55,0.51,0.52,
          0.80,0.70,0.60,0.55,0.60,0.65,0.62,0.66,0.55,0.42,0.50,0.60,0.58,0.55,0.50,
          0.71,0.57,0.45,0.30,0.71,0.65,0.64,0.28,0.72,0.42,0.31,0.53,0.38,0.33,0.61,0.37,0.77,0.65,
          0.60,0.50,0.40,0.50,0.62,0.45,0.55,0.50,0.38,0.45,0.55,0.62,0.50,0.40,0.45,0.35,0.48,0.40,0.50,0.45,0.55,0.50,
          0.80,0.72,0.66,0.59,0.50,0.51,0.41,0.70,
          0.48,0.65,0.59,0.41]
bliq_band_t = [98.1, 772.4]
bliq_band_lo = 0.5
bliq_band_hi = 1.0

# ---------------------------------------------------------------- helpers
DAY_MS = int(pd.Timestamp(DATE).value // 10**6)


def ms(mins):
    return [DAY_MS + float(m) * 60000.0 for m in mins]


def stack(times, cols, extra_t=(), extra_v=()):
    xs, ys = [], []
    for col in cols:
        for t, v in zip(times, col):
            xs.append(t)
            ys.append(v)
    xs += list(extra_t)
    ys += list(extra_v)
    return ms(xs), ys


def ordered(times, vals):
    pairs = sorted(zip(times, vals), key=lambda p: p[0])
    return ms([p[0] for p in pairs]), [p[1] for p in pairs]


FONT = "DejaVu Sans"
x_rng = Range1d(DAY_MS + X_START_MIN * 60000.0, DAY_MS + X_END_MIN * 60000.0)
tick_ms = [DAY_MS + h * 3600000 for h in TICK_HOURS]
tick_over = {t: lab for t, lab in zip(tick_ms, TICK_LABELS)}


def make_fig(title, frame_h, top, bottom, y0, y1):
    p = figure(frame_width=1334, frame_height=frame_h, x_axis_type="datetime",
               x_range=x_rng, y_range=Range1d(y0, y1),
               output_backend="svg", toolbar_location=None,
               min_border_left=44, min_border_right=14,
               min_border_top=top, min_border_bottom=bottom, title=title)
    p.outline_line_color = None
    p.background_fill_color = "white"
    p.title.align = "center"
    p.title.text_font = FONT
    p.title.text_font_size = "13px"
    p.title.text_font_style = "normal"
    p.title.text_color = "black"
    p.title.standoff = 12
    p.xaxis.ticker = FixedTicker(ticks=tick_ms)
    p.xaxis.formatter = DatetimeTickFormatter(hours="%H:%M", minutes="%H:%M")
    p.xaxis.major_label_overrides = tick_over
    p.xaxis.major_tick_in = 7
    p.xaxis.major_tick_out = 0
    p.xaxis.minor_tick_line_color = None
    p.xaxis.major_tick_line_color = "black"
    p.yaxis.major_tick_in = 0
    p.yaxis.major_tick_out = 0
    p.yaxis.minor_tick_in = 0
    p.yaxis.minor_tick_out = 0
    for ax in (p.xaxis, p.yaxis):
        ax.axis_line_color = "black"
        ax.axis_line_width = 1.3
        ax.major_label_text_font = FONT
        ax.major_label_text_font_size = "13px"
        ax.major_label_text_color = "black"
        ax.major_label_standoff = 5
    p.xgrid.visible = False
    p.ygrid.grid_line_color = "#8a8a8a"
    p.ygrid.grid_line_width = 1
    return p


# ---------------------------------------------------------------- panel 1
p1 = make_fig(TITLES[0], 300, 39, 28, 0.15, 6.5)
p1.yaxis.ticker = SingleIntervalTicker(interval=1, num_minor_ticks=5)
p1.ygrid.minor_grid_line_color = "#dedede"

gx, gy = stack(gc1_t, [gc1_a, gc1_b, gc1_c, gc1_d, gc1_e], gc1_out_t, gc1_out_v)
r_gc1 = p1.scatter(gx, gy, marker="x", size=9, line_color="#D9A23C",
                   line_alpha=0.75, line_width=2)
cx, cy = stack(gc2_t, [gc2_a, gc2_b, gc2_c, gc2_d], gc2_out_t, gc2_out_v)
r_gc2 = p1.scatter(cx, cy, marker="cross", size=10, line_color="#2E7D7D",
                   line_alpha=0.75, line_width=1.5)

w_t, w_v = [], []
for t, a, b in zip(wfs1_t, wfs1_a, wfs1_b):
    w_t += [t, t + 0.5]
    w_v += [a, b]
wlx, wly = ordered(w_t, w_v)
r_w1l = p1.line(wlx, wly, line_color="#c4c4c4", line_width=1)
r_w1m = p1.scatter(wlx, wly, marker="diamond", size=11, fill_color="#FFC51A",
                   line_color="#FF3A00", line_width=1)
p1.line(ms(wfs2_t), wfs2_v, line_color="#c4c4c4", line_width=1)
p1.scatter(ms(wfs2_t), wfs2_v, marker="inverted_triangle", size=10,
           fill_color="#55556a", line_color="#999999", line_width=1)
# legend proxies for the (empty) wfs2 series
nan_src = ColumnDataSource(dict(x=[float("nan")], y=[float("nan")]))
r_w2l = p1.line("x", "y", source=nan_src, line_color="#c4c4c4", line_width=1)
r_w2m = p1.scatter("x", "y", source=nan_src, marker="inverted_triangle", size=10,
                   fill_color="#55556a", line_color="#999999", line_width=1)

dx, dy = ordered(dimm_t, dimm_v)
r_dl = p1.line(dx, dy, line_color="#0000CC", line_width=2)
r_dm = p1.scatter(dx, dy, marker="circle", size=7, fill_color="#F0F04A",
                  line_color="#0000CC", line_width=2)

legend = Legend(items=[
    LegendItem(label="gc1", renderers=[r_gc1]),
    LegendItem(label="wfs1", renderers=[r_w1l, r_w1m]),
    LegendItem(label="dimm", renderers=[r_dl, r_dm]),
    LegendItem(label="gc2", renderers=[r_gc2]),
    LegendItem(label="wfs2", renderers=[r_w2l, r_w2m]),
], ncols=2, location=(21, 203))
legend.label_text_font = FONT
legend.label_text_font_size = "13px"
legend.border_line_color = "#444444"
legend.border_line_width = 1
legend.background_fill_color = "white"
legend.background_fill_alpha = 1.0
legend.padding = 8
legend.spacing = 6
legend.glyph_width = 22
legend.glyph_height = 21
legend.label_standoff = 8
legend.label_width = 48
legend.margin = 0
p1.add_layout(legend)

# ---------------------------------------------------------------- panel 2
p2 = make_fig(TITLES[1], 108, 30, 28, -1.28, 2.5)
p2.yaxis.ticker = SingleIntervalTicker(interval=1, num_minor_ticks=10)
p2.ygrid.minor_grid_line_color = "#f0f0f0"
p2.add_layout(Grid(dimension=1, ticker=FixedTicker(ticks=[-1.5, -0.5, 0.5, 1.5, 2.5]),
                   grid_line_color="#c4c4c4"))
px, py = ordered(wfs_t, wfs_v)
rx, ry = ordered(guider_t, guider_v)
p2.line(px, py, line_color="#c8c8c8", line_width=1)
p2.line(rx, ry, line_color="#c8c8c8", line_width=1)
p2.scatter(px, py, marker="circle", size=12, fill_color="#800080",
           line_color="#d8b4e2", line_width=1.2)
p2.scatter(rx, ry, marker="x", size=9, line_color="#ff0000", line_width=3)

# ---------------------------------------------------------------- panel 3
p3 = make_fig(TITLES[2], 110, 29, 20, -0.22, 1.95)
p3.yaxis.ticker = SingleIntervalTicker(interval=0.5, num_minor_ticks=10)
p3.yaxis.major_label_overrides = {0: "0", 0.5: "0.5", 1: "1.0", 1.5: "1.5"}
p3.ygrid.minor_grid_line_color = "#ececec"
bx = ms(bliq_band_t)
p3.varea(x=bx, y1=[bliq_band_lo] * len(bx), y2=[bliq_band_hi] * len(bx),
         fill_color="#ff0000", fill_alpha=0.06)
p3.line(bx, [bliq_band_lo] * len(bx), line_color="#cc1f1f", line_width=1.2, line_dash="4 3")
p3.line(bx, [bliq_band_hi] * len(bx), line_color="#cc1f1f", line_width=1.2, line_dash="4 3")
qx, qy = ordered(bliq_t, bliq_v)
p3.scatter(qx, qy, marker="circle", size=11, fill_color="#000080",
           line_color="#b9b9d6", line_width=1.5)

layout = column(p1, p2, p3, spacing=0)
open("out.html", "w").write(file_html(layout, INLINE))
